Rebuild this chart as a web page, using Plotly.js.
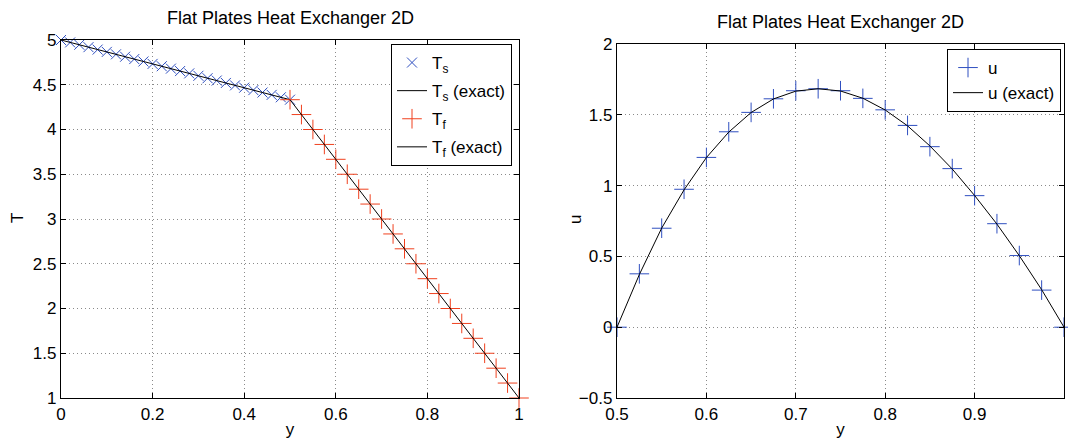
<!DOCTYPE html>
<html>
<head>
<meta charset="utf-8">
<script src="https://cdn.plot.ly/plotly-3.0.1.min.js"></script>
<style>html,body{margin:0;padding:0;background:#fff;}#chart{width:1068px;height:439px;}</style>
</head>
<body>
<div id="chart"></div>
<script>
// ---- Left panel: temperatures ----
const ysSolid = [0,0.02,0.04,0.06,0.08,0.10,0.12,0.14,0.16,0.18,0.20,0.22,0.24,0.26,0.28,0.30,0.32,0.34,0.36,0.38,0.40,0.42,0.44,0.46,0.48,0.50];
const TsNum = [5.000,4.973,4.947,4.920,4.893,4.867,4.840,4.813,4.787,4.760,4.733,4.707,4.680,4.653,4.627,4.600,4.573,4.547,4.520,4.493,4.467,4.440,4.413,4.387,4.360,4.333];
const ysExact = [0,0.1,0.2,0.3,0.4,0.5];
const TsExact = [5.000,4.867,4.733,4.600,4.467,4.333];

const yfFluid = [0.500,0.525,0.550,0.575,0.600,0.625,0.650,0.675,0.700,0.725,0.750,0.775,0.800,0.825,0.850,0.875,0.900,0.925,0.950,0.975,1.000];
const TfNum = [4.333,4.167,4.000,3.833,3.667,3.500,3.333,3.167,3.000,2.833,2.667,2.500,2.333,2.167,2.000,1.833,1.667,1.500,1.333,1.167,1.000];
const yfExact = [0.5,0.6,0.7,0.8,0.9,1.0];
const TfExact = [4.333,3.667,3.000,2.333,1.667,1.000];

// ---- Right panel: velocity ----
const yu = [0.500,0.525,0.550,0.575,0.600,0.625,0.650,0.675,0.700,0.725,0.750,0.775,0.800,0.825,0.850,0.875,0.900,0.925,0.950,0.975,1.000];
const uNum = [0,0.377,0.699,0.974,1.199,1.380,1.517,1.613,1.670,1.684,1.670,1.616,1.535,1.425,1.275,1.120,0.929,0.731,0.506,0.262,0];
const uExact = [0,0.372,0.700,0.970,1.198,1.378,1.516,1.612,1.667,1.684,1.668,1.617,1.534,1.422,1.280,1.117,0.930,0.728,0.505,0.265,0];

const leftXTicks = [0,0.2,0.4,0.6,0.8,1];
const leftYTicks = [1,1.5,2,2.5,3,3.5,4,4.5,5];
const rightXTicks = [0.5,0.6,0.7,0.8,0.9,1];
const rightYTicks = [-0.5,0,0.5,1,1.5,2];

const FONT = 'Liberation Sans, Arial, Helvetica, sans-serif';
const BLUE = '#2f4fc0';
const RED = '#f0401e';
const TICK = 17;

const traces = [
  {x: ysSolid, y: TsNum, type:'scatter', mode:'markers', name:'T<sub>s</sub>', legendgroup:'a',
   marker:{symbol:'x-thin-open', size:10, line:{color:BLUE, width:1}, color:BLUE},
   cliponaxis:false, xaxis:'x', yaxis:'y', legend:'legend'},
  {x: ysExact, y: TsExact, type:'scatter', mode:'lines', name:'T<sub>s</sub> (exact)', legendgroup:'b',
   line:{color:'#000', width:1}, xaxis:'x', yaxis:'y', legend:'legend'},
  {x: yfFluid, y: TfNum, type:'scatter', mode:'markers', name:'T<sub>f</sub>', legendgroup:'c',
   marker:{symbol:'cross-thin-open', size:14, line:{color:RED, width:1}, color:RED},
   cliponaxis:false, xaxis:'x', yaxis:'y', legend:'legend'},
  {x: yfExact, y: TfExact, type:'scatter', mode:'lines', name:'T<sub>f</sub> (exact)', legendgroup:'d',
   line:{color:'#000', width:1}, xaxis:'x', yaxis:'y', legend:'legend'},
  {x: yu, y: uNum, type:'scatter', mode:'markers', name:'u',
   marker:{symbol:'cross-thin-open', size:14, line:{color:BLUE, width:1}, color:BLUE},
   cliponaxis:false, xaxis:'x2', yaxis:'y2', legend:'legend2'},
  {x: yu, y: uExact, type:'scatter', mode:'lines', name:'u (exact)',
   line:{color:'#000', width:1}, xaxis:'x2', yaxis:'y2', legend:'legend2'}
];

function ax(extra){
  return Object.assign({
    showline:true, linecolor:'#000', linewidth:1.2, mirror:'ticks',
    ticks:'inside', ticklen:5, tickcolor:'#000', tickwidth:1,
    showgrid:true, gridcolor:'#8a8a8a', gridwidth:1, griddash:'1px,3px',
    zeroline:false, tickfont:{family:FONT, size:TICK, color:'#000'},
    tickmode:'array', fixedrange:true
  }, extra);
}

const layout = {
  width:1068, height:439,
  margin:{l:0, r:0, t:0, b:0},
  paper_bgcolor:'#fff', plot_bgcolor:'#fff',
  font:{family:FONT, color:'#000'},
  xaxis: ax({domain:[61/1068, 519/1068], range:[0,1], tickvals:leftXTicks,
    ticktext:leftXTicks.map(String), anchor:'y',
    title:{text:'y', font:{family:FONT, size:TICK, color:'#000'}, standoff:4}}),
  yaxis: ax({domain:[1-398/439, 1-40/439], range:[1,5], tickvals:leftYTicks,
    ticktext:leftYTicks.map(String), anchor:'x'}),
  xaxis2: ax({domain:[617/1068, 1064/1068], range:[0.5,1], tickvals:rightXTicks,
    ticktext:rightXTicks.map(String), anchor:'y2',
    title:{text:'y', font:{family:FONT, size:TICK, color:'#000'}, standoff:4}}),
  yaxis2: ax({domain:[1-398/439, 1-44/439], range:[-0.5,2], tickvals:rightYTicks,
    ticktext:rightYTicks.map(v => v < 0 ? '\u2212' + Math.abs(v) : String(v)), anchor:'x2'}),
  legend:{x:391/1068, y:1-44/439, xanchor:'left', yanchor:'top',
    bgcolor:'#fff', bordercolor:'#000', borderwidth:1,
    font:{family:FONT, size:17, color:'#000'}, tracegroupgap:3},
  legend2:{x:947/1068, y:1-49/439, xanchor:'left', yanchor:'top',
    bgcolor:'#fff', bordercolor:'#000', borderwidth:1,
    font:{family:FONT, size:17, color:'#000'}, tracegroupgap:0},
  showlegend:true,
  annotations:[
    {text:'Flat Plates Heat Exchanger 2D', xref:'paper', yref:'paper',
     x:290/1068, y:1-18/439, xanchor:'center', yanchor:'middle', showarrow:false,
     font:{family:FONT, size:18, color:'#000'}},
    {text:'Flat Plates Heat Exchanger 2D', xref:'paper', yref:'paper',
     x:840/1068, y:1-22/439, xanchor:'center', yanchor:'middle', showarrow:false,
     font:{family:FONT, size:18, color:'#000'}},
    {text:'T', xref:'paper', yref:'paper', x:18/1068, y:1-218/439,
     xanchor:'center', yanchor:'middle', textangle:-90, showarrow:false,
     font:{family:FONT, size:TICK, color:'#000'}},
    {text:'u', xref:'paper', yref:'paper', x:575/1068, y:1-220/439,
     xanchor:'center', yanchor:'middle', textangle:-90, showarrow:false,
     font:{family:FONT, size:TICK, color:'#000'}}
  ]
};

Plotly.newPlot('chart', traces, layout, {displayModeBar:false, staticPlot:true});
</script>
</body>
</html>
